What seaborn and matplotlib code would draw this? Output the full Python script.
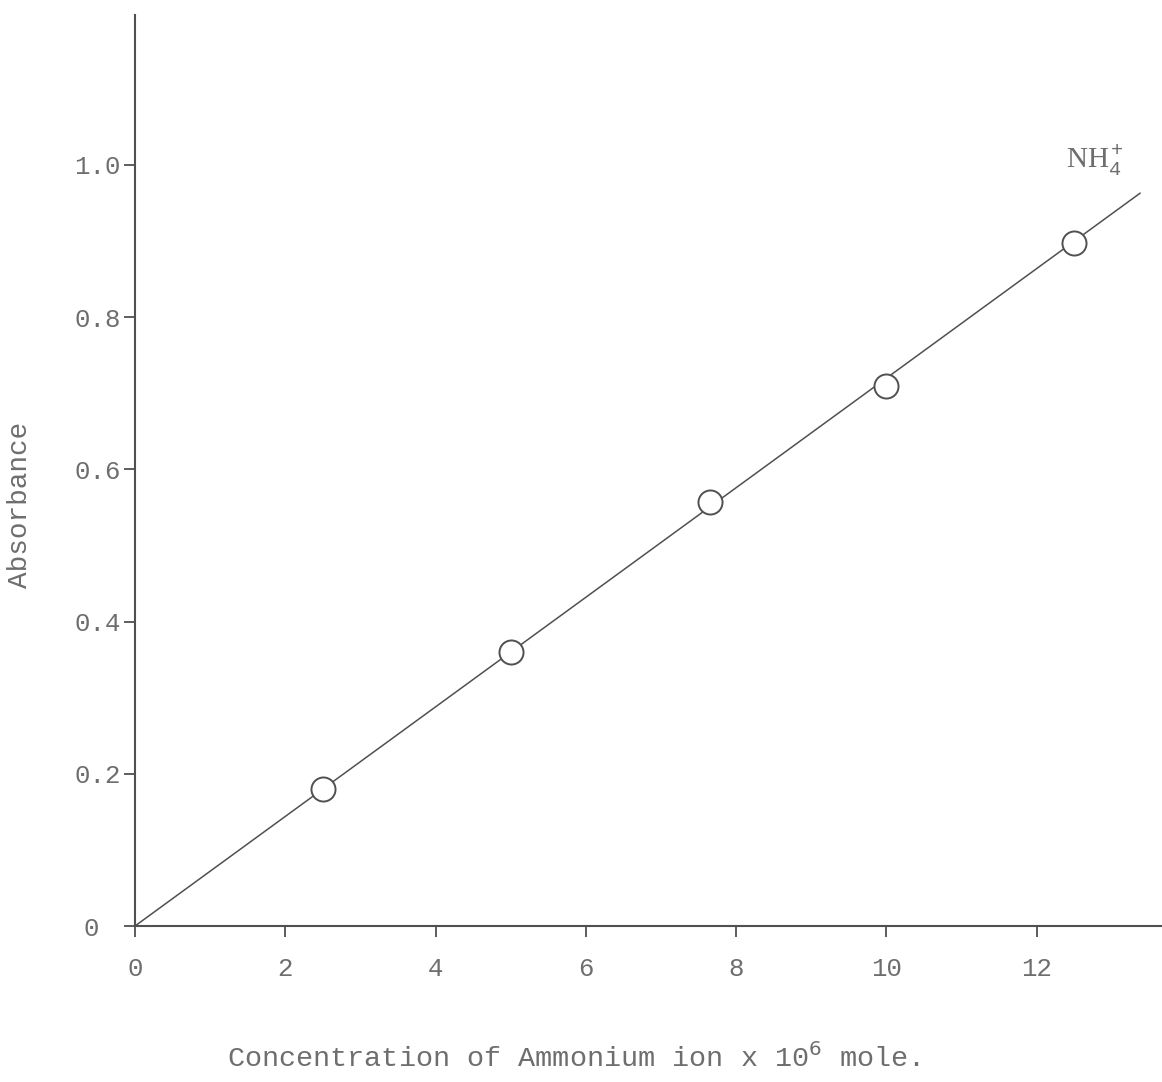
import matplotlib
matplotlib.use("Agg")
import matplotlib.pyplot as plt
import seaborn as sns
import pandas as pd

# data
conc = [2.5, 5.0, 7.65, 10.0, 12.5]
absorb = [0.18, 0.36, 0.557, 0.71, 0.897]
fit_x = [0.0, 13.38]
fit_y = [0.0, 0.963]
x_ticks = [0, 2, 4, 6, 8, 10, 12]
y_ticks = [0, 0.2, 0.4, 0.6, 0.8, 1.0]
y_labels = ["0", "0.2", "0.4", "0.6", "0.8", "1.0"]

sns.set_theme(style="ticks")
plt.rcParams["font.family"] = ["Liberation Mono", "DejaVu Sans Mono"]
plt.rcParams["mathtext.fontset"] = "custom"
plt.rcParams["mathtext.rm"] = "Liberation Mono"
plt.rcParams["mathtext.it"] = "Liberation Mono"

ink = "#505050"
txt = "#6e6e6e"

fig = plt.figure(figsize=(11.62, 10.82), dpi=100)
ax = fig.add_axes([135 / 1162, 156 / 1082, 1 - 135 / 1162, (926 - 15) / 1082])

pts = pd.DataFrame({"conc": conc, "abs": absorb})
fit = pd.DataFrame({"x": fit_x, "y": fit_y})

sns.lineplot(data=fit, x="x", y="y", ax=ax, color=ink, lw=1.1)
sns.scatterplot(data=pts, x="conc", y="abs", ax=ax, s=300, marker="o",
                facecolor="white", edgecolor=ink, linewidth=1.4, zorder=3)

ax.set_xlim(0, 13.67)
ax.set_ylim(0, 1.197)
ax.set_xticks(x_ticks)
ax.set_xticklabels([str(v) for v in x_ticks])
ax.set_yticks(y_ticks)
ax.set_yticklabels(y_labels)
ax.tick_params(axis="both", colors=ink, labelcolor=txt, labelsize=18.5,
               length=8, width=1.3)
ax.tick_params(axis="x", pad=14)
ax.tick_params(axis="y", pad=2)
# the zero on the y axis sits a bit further out in the original
ax.get_yticklabels()[0].set_x(-0.022)
sns.despine(ax=ax)
for s in ["left", "bottom"]:
    ax.spines[s].set_color(ink)
    ax.spines[s].set_linewidth(1.5)
ax.set_xlabel("")
ax.set_ylabel("")
ax.patch.set_alpha(0)

ax.text(12.78, 1.006, r"NH$_4^+$", fontsize=21, color=txt,
        family="Liberation Serif", ha="center", va="center")

fig.text(20 / 1162, 1 - 505 / 1082, "Absorbance", rotation=90, fontsize=20,
         color=txt, ha="center", va="center")
fig.text(573 / 1162, 1 - 1058 / 1082,
         "Concentration of Ammonium ion x 10$^{\\mathsf{6}}$ mole.", fontsize=20.5,
         color=txt, ha="center", va="center")

fig.savefig("out.png", dpi=100)
